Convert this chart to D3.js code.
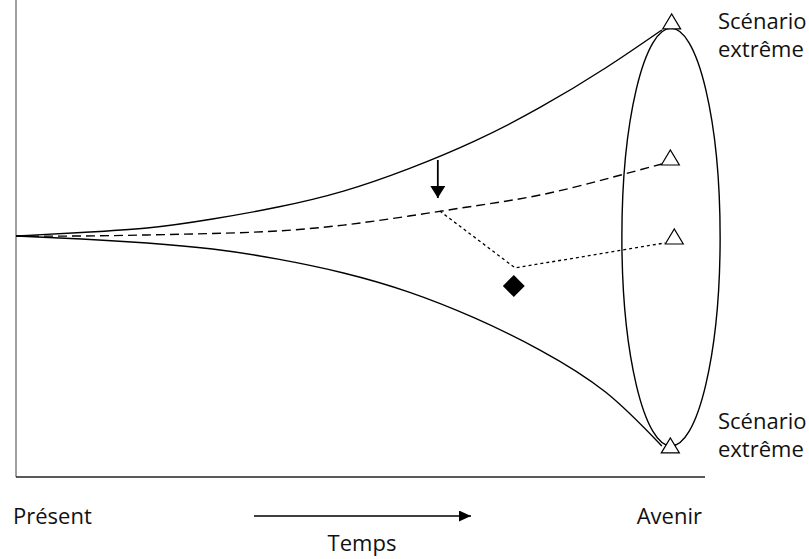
<!DOCTYPE html>
<html>
<head>
<meta charset="utf-8">
<script src="https://cdn.jsdelivr.net/npm/d3@7"></script>
<style>
  body { margin: 0; background: #fff; }
  text { font-family: "Open Sans", "Noto Sans", sans-serif; font-size: 22px; fill: #111; }
</style>
</head>
<body>
<div id="chart"></div>
<script>
// time steps (0 = présent, 100 = avenir) and the values of each path
const steps = [0, 10, 20, 30, 40, 50, 60, 70, 80, 90, 98.6];
const upper = [0, 1.7, 3.8, 8.1, 13.8, 21.4, 32.1, 45.2, 61.2, 80, 98.1];
const middle = [0, 0, 0.5, 1.2, 2.4, 5.2, 9.5, 14.3, 19.5, 27.1, 34.3];
const lower = [0, -1.4, -3.3, -6.2, -11, -17.6, -26.7, -39, -54.3, -74.3, -100];

// branch after the event
const branchT = [64.7, 76.2, 99.1];
const branchV = [11.9, -15.2, -3.3];

// scenarios at the horizon
const scenarioT = [100.1, 99.9, 100.5, 99.9];
const scenarioV = [98.6, 33.8, -3.8, -103.3];

// event arrow and decision point
const eventT = 64.4;
const eventFrom = 36.2;
const eventTo = 18.1;
const decisionT = [76];
const decisionV = [-23.8];

// cone of the future
const horizonT = 100;
const horizonV = -0.5;
const horizonHalfT = 7.5;
const horizonHalfV = 99.5;

const width = 809, height = 559;

const svg = d3.select('#chart')
    .append('svg')
    .attr('width', width)
    .attr('height', height);

const x = d3.scaleLinear().domain([0, 100]).range([16, 671]);
const y = d3.scaleLinear().domain([-100, 100]).range([446, 26]);

const defs = svg.append('defs');
function addHead(id, len, wid) {
    defs.append('marker')
        .attr('id', id)
        .attr('viewBox', `0 0 ${len} ${wid}`)
        .attr('refX', len)
        .attr('refY', wid / 2)
        .attr('markerUnits', 'userSpaceOnUse')
        .attr('markerWidth', len)
        .attr('markerHeight', wid)
        .attr('orient', 'auto')
        .append('path')
        .attr('d', `M0,0 L${len},${wid / 2} L0,${wid} Z`)
        .attr('fill', '#000');
}
addHead('head', 12, 11);
addHead('bighead', 12, 15);

// axes frame
svg.append('line')
    .attr('x1', x(0)).attr('x2', x(0))
    .attr('y1', 0).attr('y2', 477)
    .attr('stroke', '#808080')
    .attr('stroke-width', 1.5);

svg.append('line')
    .attr('x1', x(0)).attr('x2', 705)
    .attr('y1', 477).attr('y2', 477)
    .attr('stroke', '#222')
    .attr('stroke-width', 1.3);

// horizon ellipse
svg.append('ellipse')
    .attr('cx', x(horizonT))
    .attr('cy', y(horizonV))
    .attr('rx', x(horizonT) - x(horizonT - horizonHalfT))
    .attr('ry', y(horizonV - horizonHalfV) - y(horizonV))
    .attr('fill', 'none')
    .attr('stroke', '#000')
    .attr('stroke-width', 1.4);

const line = d3.line()
    .x(d => x(d[0]))
    .y(d => y(d[1]))
    .curve(d3.curveNatural);

const paths = [
    { values: upper, dash: null },
    { values: lower, dash: null },
    { values: middle, dash: '9,5' }
];

paths.forEach(p => {
    svg.append('path')
        .attr('d', line(steps.map((t, i) => [t, p.values[i]])))
        .attr('fill', 'none')
        .attr('stroke', '#000')
        .attr('stroke-width', 1.4)
        .attr('stroke-dasharray', p.dash);
});

svg.append('path')
    .attr('d', d3.line().x(d => x(d[0])).y(d => y(d[1]))(branchT.map((t, i) => [t, branchV[i]])))
    .attr('fill', 'none')
    .attr('stroke', '#000')
    .attr('stroke-width', 1.3)
    .attr('stroke-dasharray', '3,3');

// event arrow
svg.append('line')
    .attr('x1', x(eventT)).attr('x2', x(eventT))
    .attr('y1', y(eventFrom)).attr('y2', y(eventTo))
    .attr('stroke', '#000')
    .attr('stroke-width', 1.8)
    .attr('marker-end', 'url(#bighead)');

// decision diamond
svg.selectAll('.decision')
    .data(decisionT)
    .enter()
    .append('path')
    .attr('class', 'decision')
    .attr('transform', (d, i) => `translate(${x(d)},${y(decisionV[i])}) rotate(45)`)
    .attr('d', d3.symbol().type(d3.symbolSquare).size(240))
    .attr('fill', '#000');

// scenario triangles (point = middle of base)
svg.selectAll('.scenario')
    .data(scenarioT)
    .enter()
    .append('path')
    .attr('class', 'scenario')
    .attr('transform', (d, i) => `translate(${x(d)},${y(scenarioV[i])})`)
    .attr('d', 'M-9,0 L0,-15 L9,0 Z')
    .attr('fill', '#fff')
    .attr('stroke', '#000')
    .attr('stroke-width', 1.2);

// labels
const labels = [
    { text: 'Scénario', x: 718, y: 29 },
    { text: 'extrême', x: 718, y: 57 },
    { text: 'Scénario', x: 718, y: 429 },
    { text: 'extrême', x: 718, y: 457 }
];
svg.selectAll('.lab')
    .data(labels)
    .enter()
    .append('text')
    .attr('class', 'lab')
    .attr('x', d => d.x)
    .attr('y', d => d.y)
    .text(d => d.text);

svg.append('text').attr('x', 13).attr('y', 524).text('Présent');
svg.append('text').attr('x', 702).attr('y', 524).attr('text-anchor', 'end').text('Avenir');
svg.append('text').attr('x', 362).attr('y', 551).attr('text-anchor', 'middle').text('Temps');

svg.append('line')
    .attr('x1', 254).attr('x2', 471)
    .attr('y1', 516).attr('y2', 516)
    .attr('stroke', '#000')
    .attr('stroke-width', 1.6)
    .attr('marker-end', 'url(#head)');
</script>
</body>
</html>
